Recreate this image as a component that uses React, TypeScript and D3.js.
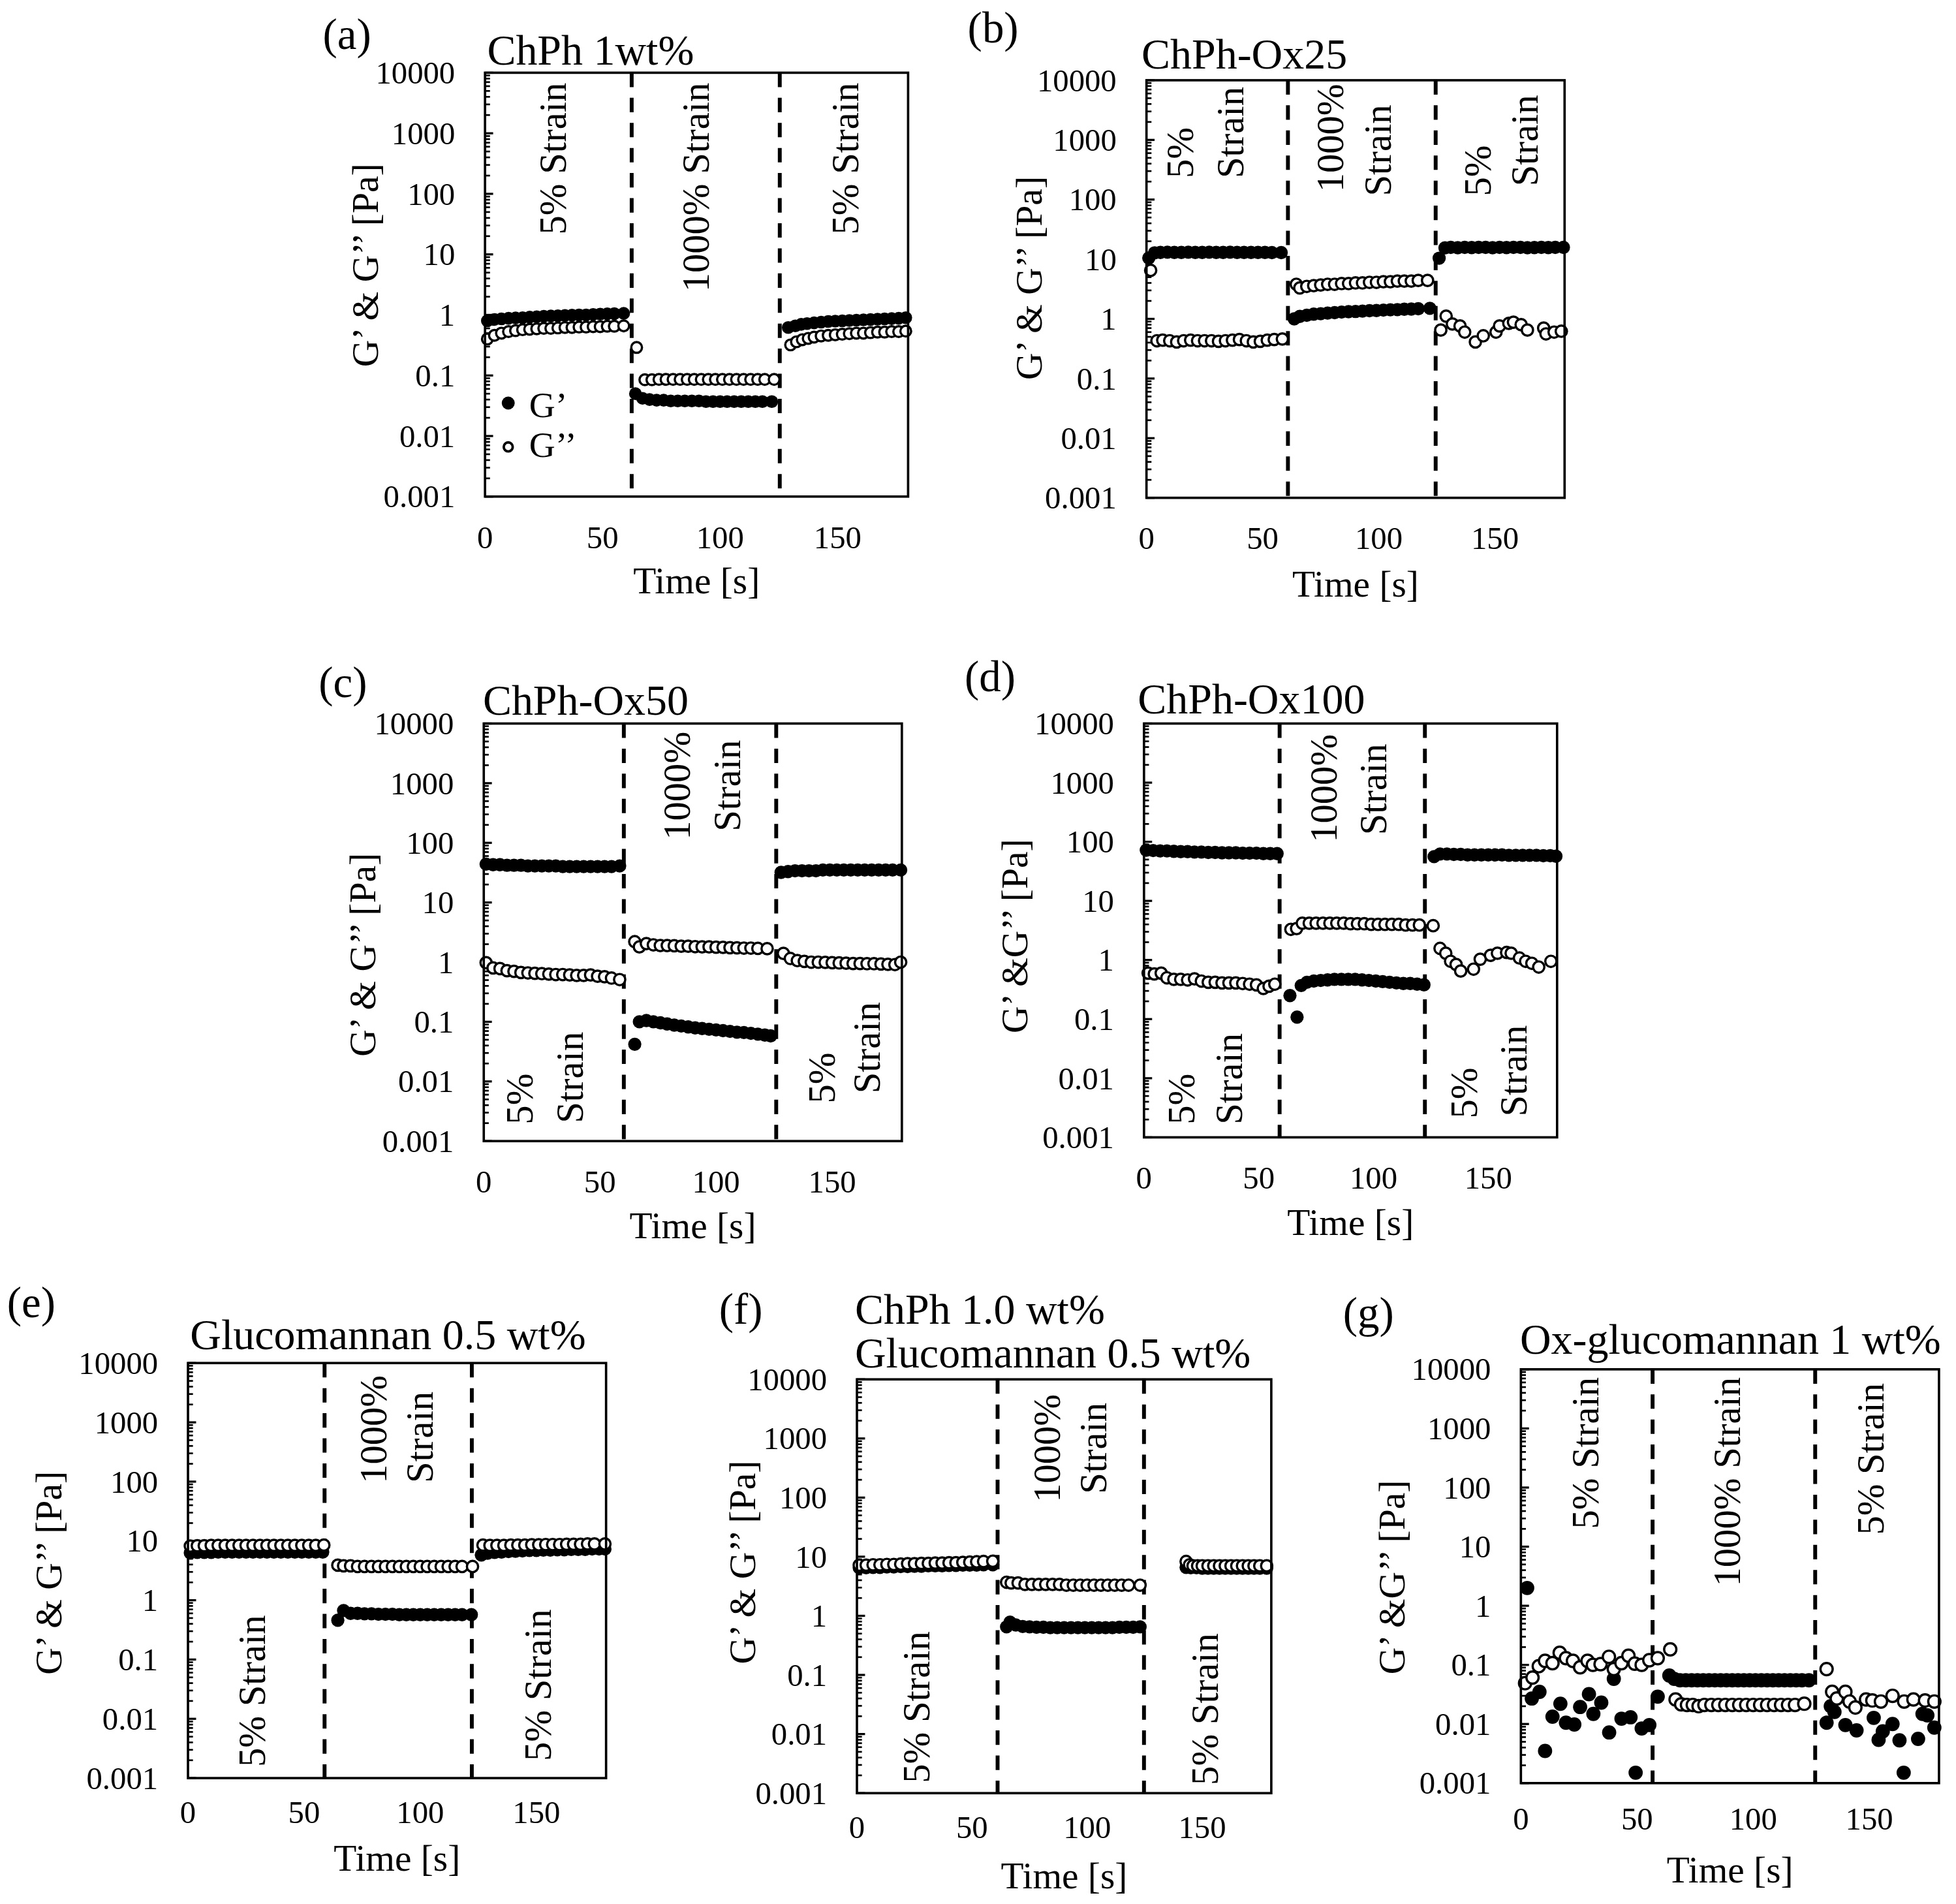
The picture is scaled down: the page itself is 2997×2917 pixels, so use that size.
import * as d3 from 'd3';

type Pt = [number, number]; // [time s, modulus Pa]

// ---- axis ticks ----
const yTickValues = [10000, 1000, 100, 10, 1, 0.1, 0.01, 0.001];
const yTickLabels = ['10000', '1000', '100', '10', '1', '0.1', '0.01', '0.001'];
const xTickValues = [0, 50, 100, 150];

// ---- (a) ChPh 1wt% ----
const aStorage: Pt[] = [
  [1, 0.8], [4, 0.84], [7, 0.86], [10, 0.88], [13, 0.89], [16, 0.9], [19, 0.92], [22, 0.93], [25, 0.95], [28, 0.96],
  [31, 0.97], [34, 0.98], [37, 0.99], [40, 1.0], [43, 1.0], [46, 1.02], [49, 1.03], [52, 1.04], [55, 1.05], [59, 1.06],
  [64, 0.05], [67, 0.042], [70, 0.04], [73, 0.039], [76, 0.039], [79, 0.038], [82, 0.038], [85, 0.038], [88, 0.038], [91, 0.038],
  [94, 0.037], [97, 0.037], [100, 0.037], [103, 0.037], [106, 0.037], [109, 0.037], [112, 0.037], [115, 0.037], [118, 0.037], [122, 0.037],
  [129, 0.62], [132, 0.66], [134.5, 0.7], [137, 0.72], [140, 0.74], [143, 0.76], [146, 0.78], [149, 0.79], [152, 0.8],
  [155, 0.81], [158, 0.82], [161, 0.83], [164, 0.84], [167, 0.85], [170, 0.86], [173, 0.87], [176, 0.88], [179, 0.9],
];
const aLoss: Pt[] = [
  [1, 0.4], [4, 0.46], [7, 0.5], [10, 0.53], [13, 0.55], [16, 0.57], [19, 0.58], [22, 0.59], [25, 0.6], [28, 0.6],
  [31, 0.61], [34, 0.62], [37, 0.62], [40, 0.63], [43, 0.63], [46, 0.64], [49, 0.64], [52, 0.65], [55, 0.65], [59, 0.66],
  [64.5, 0.29], [68, 0.085], [71, 0.085], [74, 0.086], [77, 0.086], [80, 0.086], [83, 0.086], [86, 0.086], [89, 0.086], [92, 0.086],
  [95, 0.086], [98, 0.086], [101, 0.086], [104, 0.086], [107, 0.086], [110, 0.086], [113, 0.086], [116, 0.086], [119, 0.086], [123, 0.086],
  [130, 0.32], [132.5, 0.36], [135, 0.39], [137.5, 0.41], [140, 0.43], [143, 0.45], [146, 0.46], [149, 0.47], [152, 0.48],
  [155, 0.49], [158, 0.5], [161, 0.5], [164, 0.51], [167, 0.52], [170, 0.52], [173, 0.53], [176, 0.53], [179, 0.54],
];

// ---- (b) ChPh-Ox25 ----
const bStorage: Pt[] = [
  [1, 10.5], [3.5, 12.8], [6, 13], [9, 13.1], [12, 13], [15, 13], [18, 13.1], [21, 13], [24, 13], [27, 13.1],
  [30, 13], [33, 13], [36, 13.1], [39, 13], [42, 13], [45, 13], [48, 13], [51, 13], [54, 12.9], [58, 12.9],
  [63.6, 1.0], [66, 1.1], [69, 1.15], [72, 1.2], [75, 1.22], [78, 1.25], [81, 1.27], [84, 1.3], [87, 1.32], [90, 1.33],
  [93, 1.35], [96, 1.37], [99, 1.38], [102, 1.4], [105, 1.42], [108, 1.43], [111, 1.45], [114, 1.46], [117, 1.48], [122, 1.5],
  [126, 10.4], [128.5, 15.5], [131, 15.8], [134, 15.6], [137, 15.8], [140, 15.7], [143, 15.8], [146, 15.8], [149, 15.6], [152, 15.8],
  [155, 15.7], [158, 15.8], [161, 15.8], [164, 15.6], [167, 15.7], [170, 15.8], [173, 15.7], [176, 15.8], [179.5, 15.8],
];
const bLoss: Pt[] = [
  [1.8, 6.5], [4.5, 0.43], [7, 0.44], [10, 0.43], [13, 0.41], [16, 0.43], [19, 0.44], [22, 0.43], [25, 0.43], [28, 0.43],
  [31, 0.42], [34, 0.43], [37, 0.44], [40, 0.45], [43, 0.43], [46, 0.41], [49, 0.42], [52, 0.44], [55, 0.45], [58.5, 0.46],
  [64.5, 3.8], [66, 3.3], [69, 3.5], [72, 3.6], [75, 3.7], [78, 3.8], [81, 3.8], [84, 3.9], [87, 3.9], [90, 4.0],
  [93, 4.0], [96, 4.1], [99, 4.1], [102, 4.2], [105, 4.2], [108, 4.3], [111, 4.3], [114, 4.3], [117, 4.4], [121, 4.4],
  [126.7, 0.65], [129, 1.11], [131.7, 0.82], [135, 0.76], [137, 0.6], [141.6, 0.41], [145, 0.52], [150.5, 0.6], [152, 0.76],
  [156, 0.84], [158, 0.88], [161.3, 0.8], [164, 0.65], [171, 0.7], [172, 0.56], [175.5, 0.6], [178.6, 0.62],
];

// ---- (c) ChPh-Ox50 ----
const cStorage: Pt[] = [
  [1, 44], [4, 43], [7, 43], [10, 42], [13, 42], [16, 42], [19, 41], [22, 41], [25, 41], [28, 41],
  [31, 41], [34, 40], [37, 40], [40, 40], [43, 40], [46, 40], [49, 40], [52, 40], [55, 40], [58.5, 41],
  [65, 0.042], [67, 0.1], [70, 0.105], [73, 0.1], [76, 0.096], [79, 0.092], [82, 0.088], [85, 0.085], [88, 0.082], [91, 0.079],
  [94, 0.077], [97, 0.075], [100, 0.073], [103, 0.071], [106, 0.069], [109, 0.067], [112, 0.066], [115, 0.064], [118, 0.062], [121, 0.06], [123.5, 0.058],
  [128, 32], [131, 33], [134, 34], [137, 34], [140, 34], [143, 34], [146, 35], [149, 35], [152, 35],
  [155, 35], [158, 35], [161, 35], [164, 35], [167, 35], [170, 35], [173, 35], [176, 35], [179.5, 35],
];
const cLoss: Pt[] = [
  [1, 0.98], [4, 0.8], [7, 0.78], [10, 0.72], [13, 0.7], [16, 0.67], [19, 0.66], [22, 0.65], [25, 0.64], [28, 0.63],
  [31, 0.62], [34, 0.62], [37, 0.61], [40, 0.6], [43, 0.6], [46, 0.61], [49, 0.58], [52, 0.57], [55, 0.54], [58.5, 0.51],
  [65, 2.2], [67, 1.8], [70, 2.05], [73, 1.95], [76, 1.9], [79, 1.9], [82, 1.88], [85, 1.85], [88, 1.85], [91, 1.82],
  [94, 1.8], [97, 1.8], [100, 1.78], [103, 1.77], [106, 1.75], [109, 1.74], [112, 1.72], [115, 1.72], [118, 1.7], [122, 1.68],
  [129, 1.4], [132, 1.15], [135, 1.06], [138, 1.03], [141, 1.0], [144, 1.0], [147, 0.99], [150, 0.98], [153, 0.97],
  [156, 0.96], [159, 0.95], [162, 0.95], [165, 0.94], [168, 0.94], [171, 0.93], [174, 0.92], [177, 0.91], [179.5, 1.0],
];

// ---- (d) ChPh-Ox100 ----
const dStorage: Pt[] = [
  [1, 72], [4, 71], [7, 70], [10, 70], [13, 69], [16, 68], [19, 68], [22, 67], [25, 67], [28, 66],
  [31, 66], [34, 65], [37, 65], [40, 65], [43, 64], [46, 64], [49, 64], [52, 63], [55, 63], [58, 63],
  [63.6, 0.25], [66.7, 0.108], [68.5, 0.37], [71, 0.42], [74, 0.44], [77, 0.45], [80, 0.46], [83, 0.47], [86, 0.47], [89, 0.47],
  [92, 0.47], [95, 0.46], [98, 0.45], [101, 0.44], [104, 0.43], [107, 0.42], [110, 0.41], [113, 0.4], [116, 0.4], [119, 0.39], [122, 0.38],
  [126.4, 56], [129, 62], [132, 62], [135, 61], [138, 61], [141, 60], [144, 60], [147, 60], [150, 60], [153, 60],
  [156, 60], [159, 59], [162, 59], [165, 59], [168, 59], [171, 59], [174, 58], [177, 58], [179.5, 57],
];
const dLoss: Pt[] = [
  [1.8, 0.6], [4.5, 0.58], [7.5, 0.6], [10, 0.5], [13, 0.47], [16, 0.47], [19, 0.46], [22, 0.48], [25, 0.44], [28, 0.42],
  [31, 0.42], [34, 0.41], [37, 0.41], [40, 0.41], [43, 0.4], [46, 0.39], [49, 0.38], [52, 0.33], [54.5, 0.36], [57, 0.39],
  [64, 3.3], [66.5, 3.4], [69, 4.2], [72, 4.2], [75, 4.2], [78, 4.2], [81, 4.2], [84, 4.2], [87, 4.2], [90, 4.1],
  [93, 4.1], [96, 4.1], [99, 4.0], [102, 4.0], [105, 4.0], [108, 4.0], [111, 4.0], [114, 3.9], [117, 3.9], [120, 3.9],
  [126, 3.8], [129, 1.57], [131.5, 1.3], [133.6, 0.95], [136, 0.84], [138, 0.65], [143.6, 0.7], [146.5, 1.03], [151, 1.2],
  [154, 1.3], [158, 1.34], [160, 1.3], [163.6, 1.08], [166.3, 0.95], [169, 0.88], [172, 0.76], [177.3, 0.95],
];

// ---- (e) Glucomannan 0.5 wt% ----
const eStorage: Pt[] = [
  [1, 6.3], [4, 6.4], [7, 6.4], [10, 6.4], [13, 6.5], [16, 6.5], [19, 6.5], [22, 6.5], [25, 6.5], [28, 6.5],
  [31, 6.5], [34, 6.5], [37, 6.5], [40, 6.5], [43, 6.5], [46, 6.5], [49, 6.5], [52, 6.5], [55, 6.5], [58, 6.5],
  [64.5, 0.46], [67, 0.67], [70, 0.6], [73, 0.6], [76, 0.59], [79, 0.59], [82, 0.58], [85, 0.58], [88, 0.58], [91, 0.57],
  [94, 0.57], [97, 0.57], [100, 0.57], [103, 0.57], [106, 0.57], [109, 0.57], [112, 0.57], [115, 0.57], [118, 0.57], [122, 0.57],
  [126.3, 5.8], [129, 6.2], [132, 6.4], [135, 6.5], [138, 6.6], [141, 6.7], [144, 6.8], [147, 6.9], [150, 6.9], [153, 7.0],
  [156, 7.0], [159, 7.1], [162, 7.1], [165, 7.2], [168, 7.2], [171, 7.2], [174, 7.3], [177, 7.3], [179.5, 7.3],
];
const eLoss: Pt[] = [
  [1, 8.2], [4, 8.3], [7, 8.3], [10, 8.4], [13, 8.4], [16, 8.4], [19, 8.4], [22, 8.4], [25, 8.4], [28, 8.4],
  [31, 8.4], [34, 8.4], [37, 8.4], [40, 8.4], [43, 8.4], [46, 8.4], [49, 8.4], [52, 8.4], [55, 8.4], [58.5, 8.5],
  [64.5, 3.9], [67, 3.8], [70, 3.8], [73, 3.7], [76, 3.7], [79, 3.7], [82, 3.7], [85, 3.7], [88, 3.7], [91, 3.7],
  [94, 3.7], [97, 3.7], [100, 3.7], [103, 3.7], [106, 3.7], [109, 3.7], [112, 3.7], [115, 3.7], [118, 3.7], [122.5, 3.7],
  [127, 8.5], [130, 8.4], [133, 8.4], [136, 8.4], [139, 8.5], [142, 8.5], [145, 8.5], [148, 8.6], [151, 8.6],
  [154, 8.7], [157, 8.7], [160, 8.7], [163, 8.8], [166, 8.8], [169, 8.8], [172, 8.9], [175, 8.9], [179.5, 8.9],
];

// ---- (f) ChPh 1.0 wt% + Glucomannan 0.5 wt% ----
const fStorage: Pt[] = [
  [1, 6.5], [4, 6.5], [7, 6.6], [10, 6.6], [13, 6.7], [16, 6.7], [19, 6.8], [22, 6.8], [25, 6.9], [28, 6.9],
  [31, 7.0], [34, 7.0], [37, 7.0], [40, 7.1], [43, 7.1], [46, 7.2], [49, 7.2], [52, 7.2], [55, 7.3], [59, 7.3],
  [65, 0.65], [66.5, 0.78], [69, 0.7], [72, 0.66], [75, 0.65], [78, 0.64], [81, 0.64], [84, 0.63], [87, 0.63], [90, 0.63],
  [93, 0.63], [96, 0.63], [99, 0.63], [102, 0.63], [105, 0.63], [108, 0.63], [111, 0.63], [114, 0.64], [117, 0.64], [120, 0.64], [123, 0.65],
  [143, 6.6], [145, 6.5], [147.5, 6.5], [150, 6.4], [152.5, 6.4], [155, 6.4], [157.5, 6.4], [160, 6.4],
  [162.5, 6.4], [165, 6.4], [167.5, 6.4], [170, 6.4], [172.5, 6.4], [175, 6.4], [178, 6.4],
];
const fLoss: Pt[] = [
  [1, 7.2], [4, 7.2], [7, 7.3], [10, 7.3], [13, 7.4], [16, 7.4], [19, 7.5], [22, 7.6], [25, 7.6], [28, 7.7],
  [31, 7.7], [34, 7.8], [37, 7.8], [40, 7.9], [43, 7.9], [46, 8.0], [49, 8.1], [52, 8.2], [55, 8.3], [59, 8.4],
  [65, 3.7], [67, 3.6], [70, 3.6], [73, 3.4], [76, 3.4], [79, 3.4], [82, 3.4], [85, 3.4], [88, 3.4], [91, 3.3],
  [94, 3.3], [97, 3.3], [100, 3.3], [103, 3.3], [106, 3.3], [109, 3.3], [112, 3.3], [115, 3.3], [118, 3.3], [123, 3.3],
  [143, 8.3], [144.5, 7.3], [146, 7.0], [148, 7.0], [150, 7.0], [152.5, 7.0], [155, 7.0], [157.5, 7.0],
  [160, 7.0], [162.5, 7.0], [165, 7.0], [167.5, 7.0], [170, 7.0], [172.5, 7.0], [175, 7.0], [178, 7.0],
];

// ---- (g) Ox-glucomannan 1 wt% ----
const gStorage: Pt[] = [
  [2.7, 2.0], [4.7, 0.027], [8, 0.035], [10.4, 0.0035], [13.6, 0.0133], [17, 0.022], [19.4, 0.0105], [23, 0.0098], [25.5, 0.0194], [29.3, 0.032],
  [31.2, 0.0148], [34.6, 0.023], [38, 0.0072], [40, 0.058], [43.3, 0.0123], [47.2, 0.013], [49.4, 0.0015], [52, 0.0084], [55.3, 0.0096], [58.9, 0.029],
  [63.9, 0.066], [66, 0.058], [68.5, 0.055], [71, 0.055], [73.5, 0.055], [76, 0.055], [78.5, 0.055], [81, 0.055], [83.5, 0.055], [86, 0.055],
  [88.5, 0.055], [91, 0.055], [93.5, 0.055], [96, 0.055], [98.5, 0.055], [101, 0.055], [103.5, 0.055], [106, 0.055], [108.5, 0.055], [111, 0.055],
  [113.5, 0.055], [116, 0.055], [118.5, 0.055], [121, 0.055], [124, 0.055],
  [131.6, 0.0105], [133.4, 0.02], [135, 0.016], [139.7, 0.0096], [144.5, 0.0078], [151.9, 0.0127], [154, 0.0054], [155.8, 0.0075],
  [160, 0.01], [163, 0.0053], [164.8, 0.0015], [171, 0.0056], [172.9, 0.0148], [175, 0.014], [178, 0.0087],
];
const gLoss: Pt[] = [
  [1.8, 0.049], [5, 0.061], [7.7, 0.095], [10.4, 0.117], [13.6, 0.107], [16.7, 0.16], [19.4, 0.13], [22.4, 0.117], [25.5, 0.091], [28.7, 0.117],
  [31, 0.1], [34.3, 0.103], [37.9, 0.137], [40, 0.085], [43.3, 0.107], [46.3, 0.143], [49, 0.105], [52, 0.1], [55.3, 0.12], [58.9, 0.13], [64.3, 0.183],
  [66.6, 0.026], [69, 0.0215], [71.5, 0.021], [74, 0.021], [76.5, 0.02], [79, 0.021], [82, 0.021], [85, 0.021], [88, 0.021], [91, 0.021],
  [94, 0.021], [97, 0.021], [100, 0.021], [103, 0.021], [106, 0.021], [109, 0.021], [112, 0.021], [115, 0.021], [118, 0.021], [122, 0.022],
  [131.6, 0.085], [134, 0.035], [136, 0.027], [139.7, 0.035], [141.5, 0.024], [144, 0.019], [148.6, 0.026],
  [151.3, 0.025], [155, 0.024], [160, 0.03], [165, 0.024], [169, 0.026], [174, 0.025], [178, 0.024],
];

const FONT = "'Liberation Serif', 'Times New Roman', Times, serif";

// layout of each panel (in the 1560-wide drawing units of the viewBox)
type Label = { x: number; y: number; anchor: 'start' | 'middle' | 'end'; text: string };
type PanelCfg = {
  letter: string; letterPos: [number, number];
  titles: { x: number; y: number; text: string }[];
  box: [number, number, number, number]; // x0, x1, y0, y1
  yLabel: { x: number; y: number; text: string };
  timeY: number;
  tickDy: number;
  dashes: [number, number];
  strain: Label[];
  storage: Pt[]; loss: Pt[];
  r: number;
  legend?: boolean;
};

const GLAB = 'G’ & G’’ [Pa]';
const GLAB2 = 'G’ &G’’ [Pa]';

const panels: PanelCfg[] = [
  {
    letter: '(a)', letterPos: [258, 39],
    titles: [{ x: 389.7, y: 51.7, text: 'ChPh 1wt%' }],
    box: [388, 727, 58, 396], yLabel: { x: 292, y: 211.5, text: GLAB }, timeY: 473, tickDy: 41,
    dashes: [62.4, 125.4],
    strain: [
      { x: 442.6, y: 66, anchor: 'end', text: '5% Strain' },
      { x: 557.3, y: 66, anchor: 'end', text: '1000% Strain' },
      { x: 677, y: 66, anchor: 'end', text: '5% Strain' },
    ],
    storage: aStorage, loss: aLoss, r: 5.1, legend: true,
  },
  {
    letter: '(b)', letterPos: [774.7, 33.7],
    titles: [{ x: 914, y: 54.4, text: 'ChPh-Ox25' }],
    box: [918, 1253, 64, 397], yLabel: { x: 823.8, y: 221.7, text: GLAB }, timeY: 476, tickDy: 41,
    dashes: [60.9, 124.5],
    strain: [
      { x: 945.3, y: 142.1, anchor: 'start', text: '5%' },
      { x: 985.3, y: 142.1, anchor: 'start', text: 'Strain' },
      { x: 1065.3, y: 153.2, anchor: 'start', text: '1000%' },
      { x: 1103.7, y: 156.4, anchor: 'start', text: 'Strain' },
      { x: 1183.7, y: 156.4, anchor: 'start', text: '5%' },
      { x: 1221.3, y: 148.5, anchor: 'start', text: 'Strain' },
    ],
    storage: bStorage, loss: bLoss, r: 5.3,
  },
  {
    letter: '(c)', letterPos: [254.7, 555.8],
    titles: [{ x: 386.3, y: 570, text: 'ChPh-Ox50' }],
    box: [387, 722, 577, 910], yLabel: { x: 290, y: 761.4, text: GLAB }, timeY: 987.4, tickDy: 41,
    dashes: [60.3, 125.9],
    strain: [
      { x: 542.2, y: 626.6, anchor: 'middle', text: '1000%' },
      { x: 582, y: 626.6, anchor: 'middle', text: 'Strain' },
      { x: 415.7, y: 896.7, anchor: 'start', text: '5%' },
      { x: 456.2, y: 895.7, anchor: 'start', text: 'Strain' },
      { x: 657.9, y: 880, anchor: 'start', text: '5%' },
      { x: 694, y: 872, anchor: 'start', text: 'Strain' },
    ],
    storage: cStorage, loss: cLoss, r: 5.3,
  },
  {
    letter: '(d)', letterPos: [772.3, 551.5],
    titles: [{ x: 911, y: 569, text: 'ChPh-Ox100' }],
    box: [916, 1247, 577, 907], yLabel: { x: 812.3, y: 746.5, text: GLAB2 }, timeY: 985, tickDy: 41,
    dashes: [59.1, 122.4],
    strain: [
      { x: 1060.4, y: 628.7, anchor: 'middle', text: '1000%' },
      { x: 1099.9, y: 629.5, anchor: 'middle', text: 'Strain' },
      { x: 946.1, y: 896.8, anchor: 'start', text: '5%' },
      { x: 984.5, y: 896.8, anchor: 'start', text: 'Strain' },
      { x: 1172.4, y: 892, anchor: 'start', text: '5%' },
      { x: 1212.5, y: 890.4, anchor: 'start', text: 'Strain' },
    ],
    storage: dStorage, loss: dLoss, r: 5.3,
  },
  {
    letter: '(e)', letterPos: [5, 1050.7],
    titles: [{ x: 151.7, y: 1076, text: 'Glucomannan 0.5 wt%' }],
    box: [150, 485, 1087, 1418], yLabel: { x: 38.3, y: 1254.4, text: GLAB }, timeY: 1492, tickDy: 36,
    dashes: [58.8, 122.2],
    strain: [
      { x: 299, y: 1139.9, anchor: 'middle', text: '1000%' },
      { x: 335.7, y: 1146.2, anchor: 'middle', text: 'Strain' },
      { x: 201.7, y: 1409.1, anchor: 'start', text: '5% Strain' },
      { x: 430.7, y: 1404.4, anchor: 'start', text: '5% Strain' },
    ],
    storage: eStorage, loss: eLoss, r: 5.3,
  },
  {
    letter: '(f)', letterPos: [575.5, 1055.4],
    titles: [
      { x: 684.4, y: 1055.4, text: 'ChPh 1.0 wt%' },
      { x: 684.4, y: 1090.4, text: 'Glucomannan 0.5 wt%' },
    ],
    box: [686, 1018, 1100, 1430], yLabel: { x: 594, y: 1245.9, text: GLAB }, timeY: 1506, tickDy: 36,
    dashes: [61.1, 124.7],
    strain: [
      { x: 838.7, y: 1155, anchor: 'middle', text: '1000%' },
      { x: 875.6, y: 1155, anchor: 'middle', text: 'Strain' },
      { x: 734, y: 1422, anchor: 'start', text: '5% Strain' },
      { x: 965.2, y: 1423.6, anchor: 'start', text: '5% Strain' },
    ],
    storage: fStorage, loss: fLoss, r: 5.3,
  },
  {
    letter: '(g)', letterPos: [1075.4, 1058.8],
    titles: [{ x: 1217.3, y: 1079.4, text: 'Ox-glucomannan 1 wt%' }],
    box: [1218, 1553, 1092, 1422], yLabel: { x: 1114.6, y: 1257.8, text: GLAB2 }, timeY: 1501, tickDy: 37,
    dashes: [56.7, 126.7],
    strain: [
      { x: 1269.8, y: 1098.3, anchor: 'end', text: '5% Strain' },
      { x: 1383.3, y: 1098.3, anchor: 'end', text: '1000% Strain' },
      { x: 1498.6, y: 1103, anchor: 'end', text: '5% Strain' },
    ],
    storage: gStorage, loss: gLoss, r: 5.7,
  },
];

function Panel({ p }: { p: PanelCfg }) {
  const [x0, x1, y0, y1] = p.box;
  const x = d3.scaleLinear().domain([0, 180]).range([x0, x1]);
  const y = d3.scaleLog().domain([0.001, 10000]).range([y1, y0]);
  const allTicks = y.ticks();
  const isMajor = (v: number) => Math.abs(Math.log10(v) - Math.round(Math.log10(v))) < 1e-6;

  return (
    <g fontFamily={FONT} fill="#000">
      <text x={p.letterPos[0]} y={p.letterPos[1]} fontSize={35}>{p.letter}</text>
      {p.titles.map((t, i) => (
        <text key={i} x={t.x} y={t.y} fontSize={34.5}>{t.text}</text>
      ))}

      {/* y ticks (inside the box) */}
      {allTicks.map((v, i) => (
        <line key={i} x1={x0} x2={x0 + (isMajor(v) ? 6.5 : 4)} y1={y(v)} y2={y(v)}
          stroke="#000" strokeWidth={isMajor(v) ? 1.7 : 1.4} />
      ))}
      {yTickValues.map((v, i) => (
        <text key={i} x={x0 - 24} y={y(v)} dy="0.34em" textAnchor="end" fontSize={25.5}>{yTickLabels[i]}</text>
      ))}
      {xTickValues.map((v) => (
        <text key={v} x={x(v)} y={y1 + p.tickDy} textAnchor="middle" fontSize={25.5}>{v}</text>
      ))}

      {/* phase separators */}
      {p.dashes.map((t, i) => (
        <line key={i} x1={x(t)} x2={x(t)} y1={y0} y2={y1} stroke="#000" strokeWidth={3.1} strokeDasharray="11.5 8.5" />
      ))}

      {/* strain annotations */}
      {p.strain.map((s, i) => (
        <text key={i} transform={`translate(${s.x},${s.y}) rotate(-90)`} textAnchor={s.anchor}
          dominantBaseline="central" fontSize={30.5}>{s.text}</text>
      ))}

      {/* data: G' filled, G'' open on top */}
      {p.storage.map((d, i) => (
        <circle key={'s' + i} cx={x(d[0])} cy={y(d[1])} r={p.r} fill="#000" />
      ))}
      {p.loss.map((d, i) => (
        <circle key={'l' + i} cx={x(d[0])} cy={y(d[1])} r={p.r - 0.8} fill="#fff" stroke="#000" strokeWidth={1.8} />
      ))}

      <rect x={x0} y={y0} width={x1 - x0} height={y1 - y0} fill="none" stroke="#000" strokeWidth={1.9} />

      {p.legend && (
        <g>
          <circle cx={406.6} cy={321.4} r={5.2} fill="#000" />
          <text x={423.4} y={332.6} fontSize={29}>G’</text>
          <circle cx={406.6} cy={356.4} r={3.6} fill="#fff" stroke="#000" strokeWidth={2} />
          <text x={423.4} y={364.3} fontSize={29}>G’’</text>
        </g>
      )}

      <text transform={`translate(${p.yLabel.x},${p.yLabel.y}) rotate(-90)`} textAnchor="middle"
        dominantBaseline="central" fontSize={30}>{p.yLabel.text}</text>
      <text x={(x0 + x1) / 2} y={p.timeY} textAnchor="middle" fontSize={30}>Time [s]</text>
    </g>
  );
}

export default function App() {
  return (
    <svg width={2997} height={2917} viewBox="0 0 1560 1518.4"
      style={{ position: 'absolute', left: 0, top: 0, background: '#fff' }}>
      <rect x={0} y={0} width={1560} height={1518.4} fill="#fff" />
      {/* small horizontal correction measured against the reference */}
      <g transform="translate(0.6,0) scale(0.9954,1)">
        {panels.map((p, i) => <Panel key={i} p={p} />)}
      </g>
    </svg>
  );
}
